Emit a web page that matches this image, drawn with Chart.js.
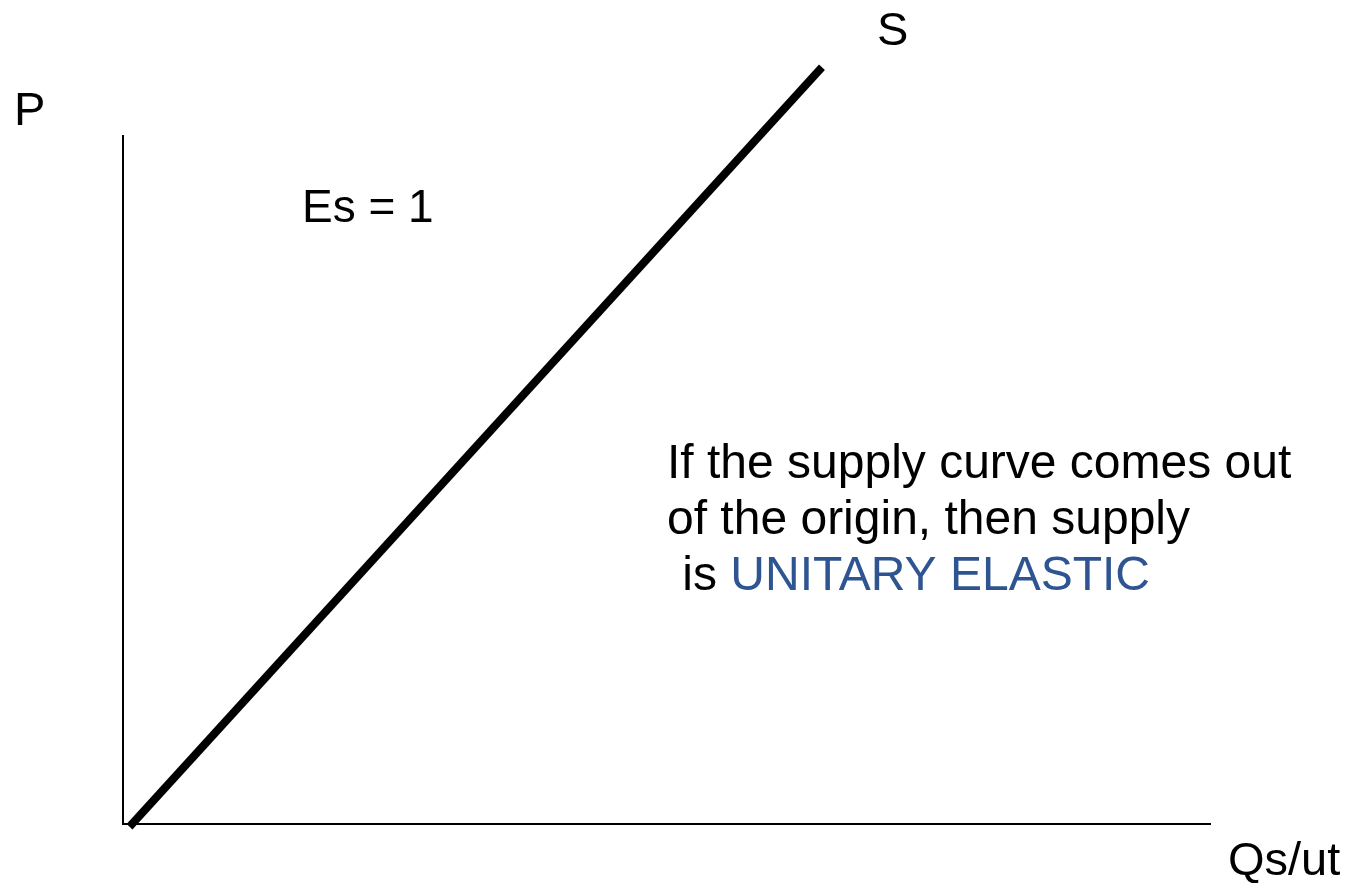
<!DOCTYPE html>
<html lang="en">
<head>
    <meta charset="UTF-8">
    <title>Unitary elastic supply</title>
    <style>
        html, body { margin: 0; padding: 0; background: #fff; }
        #wrap { width: 1352px; height: 883px; position: relative; }
    </style>
</head>
<body>
    <div id="wrap">
        <canvas id="supplyChart" width="1352" height="883"></canvas>
    </div>
    <script src="https://cdn.jsdelivr.net/npm/chart.js"></script>
    <script>
        // supply curve S, in axis units (0..100 on both axes)
        const supplyQ = [0.6, 64.3];
        const supplyP = [-0.4, 110];

        const FAMILY = '"Liberation Sans", Arial, sans-serif';
        const BLUE = '#2e5591';

        // text labels drawn over the chart
        const labelsPlugin = {
            id: 'labels',
            afterDraw(chart) {
                const ctx = chart.ctx;
                ctx.save();
                ctx.textBaseline = 'alphabetic';
                ctx.fillStyle = '#000';
                ctx.font = '47px ' + FAMILY;
                ctx.fillText('P', 14, 125);
                ctx.fillText('S', 877, 45);
                ctx.fillText('Qs/ut', 1228, 875);
                ctx.font = '48px ' + FAMILY;
                ctx.fillText('If the supply curve comes out', 667, 478);
                ctx.fillText('of the origin, then supply', 667, 534);
                const pre = ' is ';
                ctx.fillText(pre, 669, 590);
                const w = ctx.measureText(pre).width;
                ctx.fillStyle = BLUE;
                ctx.fillText('UNITARY ELASTIC', 669 + w, 590);
                ctx.fillStyle = '#000';
                ctx.font = '46px ' + FAMILY;
                ctx.fillText('Es = 1', 302, 222);
                ctx.restore();
            }
        };

        const ctx = document.getElementById('supplyChart').getContext('2d');
        new Chart(ctx, {
            type: 'scatter',
            data: {
                datasets: [{
                    label: 'S',
                    data: supplyQ.map((q, i) => ({ x: q, y: supplyP[i] })),
                    showLine: true,
                    borderColor: '#000',
                    borderWidth: 8,
                    pointRadius: 0,
                    clip: false,
                }]
            },
            options: {
                responsive: false,
                animation: false,
                layout: { padding: { left: 123, top: 136, right: 142, bottom: 59 } },
                plugins: { legend: { display: false }, tooltip: { enabled: false } },
                scales: {
                    x: {
                        type: 'linear', min: 0, max: 100,
                        grid: { display: false, drawTicks: false },
                        border: { display: true, color: '#000', width: 2 },
                        ticks: { display: false },
                    },
                    y: {
                        type: 'linear', min: 0, max: 100,
                        grid: { display: false, drawTicks: false },
                        border: { display: true, color: '#000', width: 2 },
                        ticks: { display: false },
                    }
                }
            },
            plugins: [labelsPlugin]
        });
    </script>
</body>
</html>
